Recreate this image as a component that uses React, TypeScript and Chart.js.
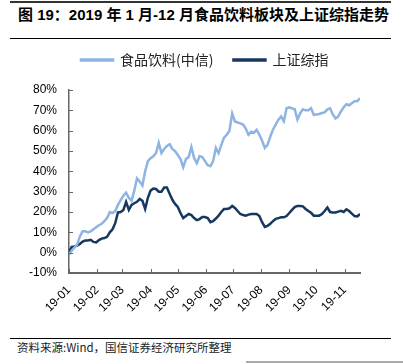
import React, { useEffect, useRef } from "react";
import { Chart, registerables } from "chart.js";

Chart.register(...registerables);

const dates = [
  "2019-01-01", "2019-01-04", "2019-01-07", "2019-01-10", "2019-01-13", "2019-01-16", "2019-01-19", "2019-01-22", "2019-01-25", "2019-01-28", "2019-01-31",
  "2019-02-03", "2019-02-06", "2019-02-09", "2019-02-12", "2019-02-15", "2019-02-18", "2019-02-21", "2019-02-24", "2019-02-27",
  "2019-03-02", "2019-03-05", "2019-03-08", "2019-03-11", "2019-03-14", "2019-03-17", "2019-03-20", "2019-03-23", "2019-03-26", "2019-03-29",
  "2019-04-01", "2019-04-04", "2019-04-07", "2019-04-10", "2019-04-13", "2019-04-16", "2019-04-19", "2019-04-22", "2019-04-25", "2019-04-28",
  "2019-05-01", "2019-05-04", "2019-05-07", "2019-05-10", "2019-05-13", "2019-05-16", "2019-05-19", "2019-05-22", "2019-05-25", "2019-05-28", "2019-05-31",
  "2019-06-03", "2019-06-06", "2019-06-09", "2019-06-12", "2019-06-15", "2019-06-18", "2019-06-21", "2019-06-24", "2019-06-27", "2019-06-30",
  "2019-07-03", "2019-07-06", "2019-07-09", "2019-07-12", "2019-07-15", "2019-07-18", "2019-07-21", "2019-07-24", "2019-07-27", "2019-07-30",
  "2019-08-02", "2019-08-05", "2019-08-08", "2019-08-11", "2019-08-14", "2019-08-17", "2019-08-20", "2019-08-23", "2019-08-26", "2019-08-29",
  "2019-09-01", "2019-09-04", "2019-09-07", "2019-09-10", "2019-09-13", "2019-09-16", "2019-09-19", "2019-09-22", "2019-09-25", "2019-09-28",
  "2019-10-01", "2019-10-04", "2019-10-07", "2019-10-10", "2019-10-13", "2019-10-16", "2019-10-19", "2019-10-22", "2019-10-25", "2019-10-28", "2019-10-31",
  "2019-11-03", "2019-11-06", "2019-11-09", "2019-11-12", "2019-11-15", "2019-11-18",
];

// 食品饮料(中信) cumulative return, %
const foodBeverage = [
  -1, 1, 2.5, 4, 8, 10.5, 10.5, 10, 10.5, 11.5, 12.5,
  13.5, 14.2, 15.5, 17, 20, 19.5, 20.5, 23.5, 25.8,
  28, 29.5, 27, 25.5, 30.5, 36.5, 35, 33, 40, 45,
  46.5, 47.4, 49, 54, 49, 51, 52.5, 53.3, 51, 50,
  48, 46, 42, 46, 47, 52, 46.5, 44, 47.5, 47, 45,
  43, 42.5, 45, 51.5, 49, 53, 56.5, 58, 60, 68.5,
  64.5, 64, 63.6, 63, 61, 58, 59.5, 59, 60.4, 58,
  55, 51.5, 53, 57, 60.5, 63, 65.4, 67, 64.6, 71,
  71.5, 71, 70.5, 65.5, 68.5, 70.5, 70, 70, 71, 67.8,
  68, 68.2, 68.7, 69, 70.5, 71, 68, 66, 67, 69.5, 71.5,
  73, 72.5, 73.5, 74.5, 74.5, 76,
];

// 上证综指 cumulative return, %
const shanghaiComposite = [
  0.5, 2.8, 3.1, 3.5, 4.3, 5.5, 6, 6, 6.3, 5.3, 5,
  6.2, 6.9, 7.2, 7.8, 10, 11.5, 14.5, 19.8, 20,
  21, 25, 21, 23.5, 24.3, 25, 26.4, 25.5, 21.5, 27,
  30.5, 31.5, 31.3, 30, 30, 32, 32, 29, 26, 24,
  22.5, 19.5, 17, 18, 19, 18.5, 17, 16, 16.5, 17.5, 17.5,
  17, 15, 15.5, 16.8, 18.2, 20, 21.5, 21.5, 21.8, 23,
  22, 20.5, 19, 18.5, 18.2, 18.7, 19, 19, 19, 18,
  15, 12.7, 13.2, 14.2, 15.5, 16.6, 17, 17.4, 17.4, 18,
  19.5, 21, 22.4, 23, 23, 22.8, 21.5, 20.5, 19.6, 18.2,
  18.2, 18.2, 19, 20.5, 22.2, 20, 19.8, 19.8, 20.2, 20.6, 20,
  21.3, 20.5, 19.2, 18, 17.8, 19,
];

const monthTickDates = [
  "2019-01-01", "2019-02-01", "2019-03-01", "2019-04-01", "2019-05-01", "2019-06-01",
  "2019-07-01", "2019-08-01", "2019-09-01", "2019-10-01", "2019-11-01",
];
const monthTickLabels = ["19-01", "19-02", "19-03", "19-04", "19-05", "19-06", "19-07", "19-08", "19-09", "19-10", "19-11"];

const seriesNames = ["食品饮料(中信)", "上证综指"];
const seriesColors = ["#8DB4E2", "#17375E"];

const yMin = -10;
const yMax = 80;
const yStep = 10;

const dayOf = (s: string) => {
  const [y, m, d] = s.split("-").map(Number);
  return (Date.UTC(y, m - 1, d) - Date.UTC(2019, 0, 1)) / 86400000;
};

const AXIS_COLOR = "#666666";

const insideTicks = {
  id: "insideTicks",
  afterDatasetsDraw(chart: any) {
    const { ctx, chartArea, scales } = chart;
    const x = scales.x;
    const y = scales.y;
    ctx.save();
    ctx.strokeStyle = AXIS_COLOR;
    ctx.lineWidth = 1;
    ctx.beginPath();
    y.ticks.forEach((t: any) => {
      const py = Math.round(y.getPixelForValue(t.value)) + 0.5;
      ctx.moveTo(chartArea.left, py);
      ctx.lineTo(chartArea.left + 4, py);
    });
    x.ticks.forEach((t: any) => {
      const px = Math.round(x.getPixelForValue(t.value)) + 0.5;
      ctx.moveTo(px, chartArea.bottom);
      ctx.lineTo(px, chartArea.bottom - 4);
    });
    ctx.stroke();
    ctx.restore();
  },
};

const LEGEND_EXTRA = 13;
const LEGEND_START = 81;
const LEGEND_PAD = 20;

const legendPlacement = {
  id: "legendPlacement",
  afterInit(chart: any) {
    const lg = chart.legend;
    if (!lg) return;
    const fit = lg.fit.bind(lg);
    lg.fit = () => {
      fit();
      lg.height += LEGEND_EXTRA;
    };
  },
  afterLayout(chart: any) {
    const lg = chart.legend;
    if (!lg) return;
    lg.left = LEGEND_START - LEGEND_PAD;
    lg.right = chart.width;
  },
};

export default function App() {
  const ref = useRef<HTMLCanvasElement>(null);

  useEffect(() => {
    if (!ref.current) return;
    const xs = dates.map(dayOf);
    const tickDays = monthTickDates.map(dayOf);
    const chart = new Chart(ref.current, {
      type: "line",
      data: {
        datasets: [
          {
            label: seriesNames[0],
            data: xs.map((x, i) => ({ x, y: foodBeverage[i] })),
            borderColor: seriesColors[0],
            backgroundColor: seriesColors[0],
            borderWidth: 2.5,
            pointRadius: 0,
            tension: 0,
          },
          {
            label: seriesNames[1],
            data: xs.map((x, i) => ({ x, y: shanghaiComposite[i] })),
            borderColor: seriesColors[1],
            backgroundColor: seriesColors[1],
            borderWidth: 2.5,
            pointRadius: 0,
            tension: 0,
          },
        ],
      },
      options: {
        animation: false,
        responsive: false,
        maintainAspectRatio: false,
        layout: { padding: { left: 0, right: 43, top: 0, bottom: 0 } },
        plugins: {
          legend: {
            display: true,
            position: "top",
            align: "start",
            labels: {
              boxWidth: 32,
              boxHeight: 1,
              padding: LEGEND_PAD,
              color: "#222",
              font: { family: '"Noto Sans CJK SC", sans-serif', size: 14 },
            },
          },
          tooltip: { enabled: false },
        },
        scales: {
          x: {
            type: "linear",
            min: xs[0],
            max: xs[xs.length - 1],
            afterBuildTicks: (scale: any) => {
              scale.ticks = tickDays.map((v) => ({ value: v }));
            },
            afterFit: (scale: any) => {
              scale.height = 62;
            },
            grid: { display: false, drawTicks: false },
            border: { display: true, color: AXIS_COLOR, width: 2 },
            ticks: {
              autoSkip: false,
              minRotation: 45,
              maxRotation: 45,
              padding: 10,
              color: "#000",
              font: { family: '"Liberation Sans", Arial, sans-serif', size: 12 },
              callback: (_v: any, i: number) => monthTickLabels[i],
            },
          },
          y: {
            min: yMin,
            max: yMax,
            afterFit: (scale: any) => {
              scale.width = 69;
            },
            grid: { display: false, drawTicks: false },
            border: { display: true, color: AXIS_COLOR, width: 1.5 },
            ticks: {
              stepSize: yStep,
              padding: 12,
              color: "#000",
              font: { family: '"Liberation Sans", Arial, sans-serif', size: 12 },
              callback: (v: any) => `${v}%`,
            },
          },
        },
      },
      plugins: [insideTicks, legendPlacement],
    });
    return () => chart.destroy();
  }, []);

  return (
    <div style={{ position: "absolute", left: 0, top: 0, width: 403, height: 364, background: "#fff", overflow: "hidden" }}>
      <div style={{ position: "absolute", left: 10, top: 1, width: 381, height: 2, background: "#333" }} />
      <div
        style={{
          position: "absolute",
          left: 18,
          top: 5,
          fontFamily: '"Liberation Sans", "Noto Sans CJK SC", sans-serif',
          fontWeight: "bold",
          fontSize: 15,
          lineHeight: "20px",
          whiteSpace: "nowrap",
          color: "#000",
        }}
      >
        图 19：2019 年 1 月-12 月食品饮料板块及上证综指走势
      </div>
      <div style={{ position: "absolute", left: 10, top: 38, width: 381, height: 1, background: "#000" }} />
      <canvas ref={ref} width={403} height={302} style={{ position: "absolute", left: 0, top: 33, width: 403, height: 302 }} />
      <div style={{ position: "absolute", left: 10, top: 338, width: 381, height: 1, background: "#000" }} />
      <div
        style={{
          position: "absolute",
          left: 17,
          top: 340,
          fontFamily: '"Noto Sans CJK SC", sans-serif',
          fontSize: 11.5,
          lineHeight: "14px",
          whiteSpace: "nowrap",
          color: "#222",
        }}
      >
        资料来源:Wind，国信证券经济研究所整理
      </div>
      <div style={{ position: "absolute", left: 246, top: 361, width: 157, height: 2, background: "#aaa" }} />
    </div>
  );
}
